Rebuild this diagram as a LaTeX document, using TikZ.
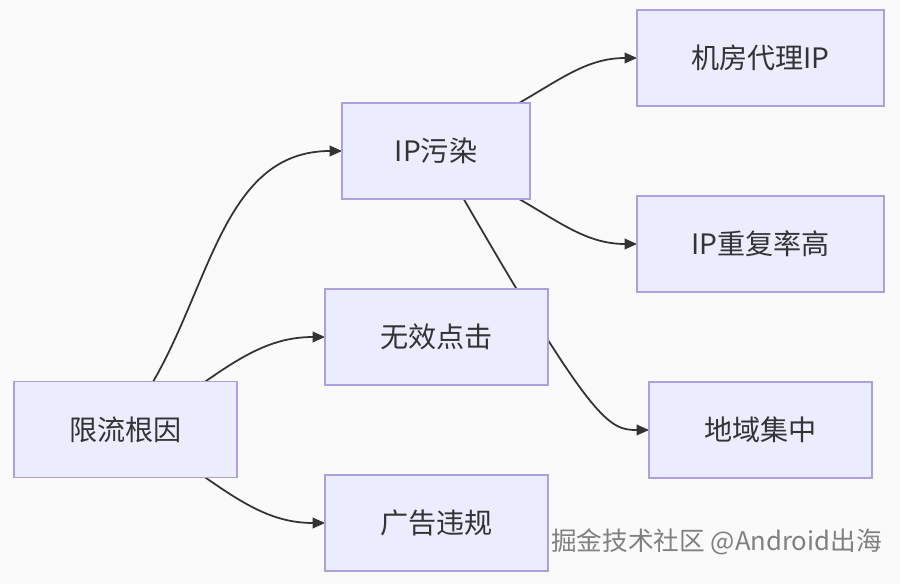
\documentclass[tikz,border=0pt]{standalone}
\usepackage{fontspec}
\setmainfont{Noto Sans CJK SC}
\usetikzlibrary{arrows.meta,backgrounds}
\definecolor{boxfill}{RGB}{236,236,255}
\definecolor{boxline}{RGB}{172,160,222}
\definecolor{ink}{RGB}{51,51,51}
\definecolor{paper}{RGB}{250,250,250}
\begin{document}
\begin{tikzpicture}[x=0.02cm, y=-0.02cm, font=\fontsize{16}{19}\selectfont,
	box/.style={draw=boxline, fill=boxfill, line width=1pt, text=ink, minimum width=4.46cm, minimum height=1.92cm, inner sep=0pt, outer sep=0pt},
	link/.style={draw=ink, line width=1pt, -{Triangle[length=7pt,width=6pt]}}]
	%canvas
	\useasboundingbox (0,0) rectangle (900,584);
	%boxes
	\node[box] (root) at (125.5,429.5) {限流根因};
	\node[box, minimum width=3.76cm] (ipp) at (436,151) {IP污染};
	\node[box] (click) at (436.5,337) {无效点击};
	\node[box] (ad) at (436.5,523) {广告违规};
	\node[box, minimum width=4.94cm] (idc) at (760.5,58) {机房代理IP};
	\node[box, minimum width=4.94cm] (dup) at (760.5,244) {IP重复率高};
	\node[box] (geo) at (760.5,430) {地域集中};
	%watermark
	\node[text=gray, font=\fontsize{14.6}{17}\selectfont, anchor=east, inner sep=0pt] (mark) at (882,542) {掘金技术社区 @Android出海};
	%links
	\begin{scope}[on background layer]
	\fill[paper] (0,0) rectangle (900,584);
	\draw[link] (root.60) to[out=60,in=180] (ipp.west);
	\draw[link] (root.31) to[out=35,in=180] (click.west);
	\draw[link] (root.-31) to[out=-35,in=180] (ad.west);
	\draw[link] (ipp.30) to[out=30,in=180] (idc.west);
	\draw[link] (ipp.-30) to[out=-30,in=180] (dup.west);
	\draw[link] (ipp.-60) .. controls +(130,225) and +(-40,0) .. (geo.west);
	\end{scope}
\end{tikzpicture}
\end{document}
